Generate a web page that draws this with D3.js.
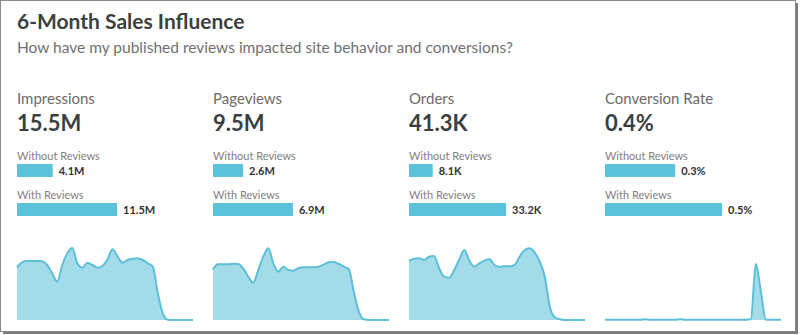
<!DOCTYPE html>
<html>
<head>
<meta charset="utf-8">
<script src="https://cdn.jsdelivr.net/npm/d3@7"></script>
<style>
  html, body { margin: 0; padding: 0; background: #ffffff; }
  svg { display: block; font-family: Lato, "Open Sans", sans-serif; }
</style>
</head>
<body>
<svg id="chart" width="800" height="335"></svg>
<script>
// ---- Data ----
const title = "6-Month Sales Influence";
const subtitle = "How have my published reviews impacted site behavior and conversions?";
const metrics = ["Impressions", "Pageviews", "Orders", "Conversion Rate"];
const totals = ["15.5M", "9.5M", "41.3K", "0.4%"];
const seriesNames = ["Without Reviews", "With Reviews"];
const withoutValues = [4.1, 2.6, 8.1, 0.3];
const withValues = [11.5, 6.9, 33.2, 0.5];
const withoutLabels = ["4.1M", "2.6M", "8.1K", "0.3%"];
const withLabels = ["11.5M", "6.9M", "33.2K", "0.5%"];
const barDomainMax = [13.45, 10.1, 40.0, 0.5];

// daily trend (relative units) for each metric
const impressionsTrend = [158,173,177,177,177,176,165,140,115,165,200,216,170,157,172,165,157,162,182,212,190,172,180,184,185,180,170,160,80,20,1,0,0,0,0,0];
const pageviewsTrend   = [152,167,167,167,169,168,155,130,112,150,190,215,170,145,160,150,148,156,158,158,158,160,166,173,174,168,160,153,85,25,2,0,0,0,0,0];
const ordersTrend      = [178,184,185,180,190,192,155,130,127,150,182,210,178,160,170,178,182,165,160,161,161,165,190,210,215,202,175,130,40,8,2,0,0,0,0,0];
const conversionTrend  = [1,1,1,1,1,1,1,1,2,1,1,1,1,1,1,2,1,1,1,1,1,1,1,1,1,1,1,1,1,2,168,85,1,1,1,1];
const trends = [impressionsTrend, pageviewsTrend, ordersTrend, conversionTrend];
const trendMax = 225;

// ---- Drawing ----
const svg = d3.select("#chart");

// card with shadow
svg.append("rect").attr("x", 3).attr("y", 3).attr("width", 795).attr("height", 331).attr("fill", "#7a7a7a");
svg.append("rect").attr("x", 0.5).attr("y", 0.5).attr("width", 795).attr("height", 331)
  .attr("fill", "#ffffff").attr("stroke", "#8a8a8a").attr("stroke-width", 1);

svg.append("text").attr("x", 17).attr("y", 29)
  .attr("font-size", 21).attr("font-weight", 700).attr("fill", "#3c4040").text(title);
svg.append("text").attr("x", 17).attr("y", 52.5)
  .attr("font-size", 15.5).attr("fill", "#707070").text(subtitle);

const col = d3.scaleBand().domain(metrics).range([17, 17 + 196 * 4]).paddingInner(0).paddingOuter(0);
const sparkW = 176;

const barColor = "#5bc2da";
const areaFill = "#a3dce8";
const lineColor = "#5bbfd8";

metrics.forEach((m, i) => {
  const g = svg.append("g").attr("transform", `translate(${col(m)},0)`);
  g.append("text").attr("x", 0).attr("y", 104).attr("font-size", 15).attr("fill", "#6b6b6b").text(m);
  g.append("text").attr("x", 0).attr("y", 131).attr("font-size", 22).attr("font-weight", 700).attr("fill", "#3b3f3f").text(totals[i]);

  const bx = d3.scaleLinear().domain([0, barDomainMax[i]]).range([0, 117]);
  const rows = [
    { name: seriesNames[0], v: withoutValues[i], lbl: withoutLabels[i], ty: 159.5, by: 164 },
    { name: seriesNames[1], v: withValues[i], lbl: withLabels[i], ty: 198.5, by: 203 }
  ];
  rows.forEach(r => {
    g.append("text").attr("x", 0).attr("y", r.ty).attr("font-size", 11).attr("fill", "#808080").text(r.name);
    g.append("rect").attr("x", 0).attr("y", r.by).attr("width", bx(r.v)).attr("height", 13).attr("fill", barColor);
    g.append("text").attr("x", bx(r.v) + 6).attr("y", r.by + 11).attr("font-size", 11).attr("font-weight", 700)
      .attr("fill", "#333333").text(r.lbl);
  });

  const data = trends[i];
  const x = d3.scaleLinear().domain([0, data.length - 1]).range([0, sparkW]);
  const y = d3.scaleLinear().domain([0, trendMax]).range([320, 245]);
  const area = d3.area().x((d, j) => x(j)).y0(y(0)).y1(d => y(d)).curve(d3.curveMonotoneX);
  const line = d3.line().x((d, j) => x(j)).y(d => y(d)).curve(d3.curveMonotoneX);
  g.append("path").datum(data).attr("d", area).attr("fill", areaFill);
  g.append("path").datum(data).attr("d", line).attr("fill", "none").attr("stroke", lineColor).attr("stroke-width", 2);
});
</script>
</body>
</html>
